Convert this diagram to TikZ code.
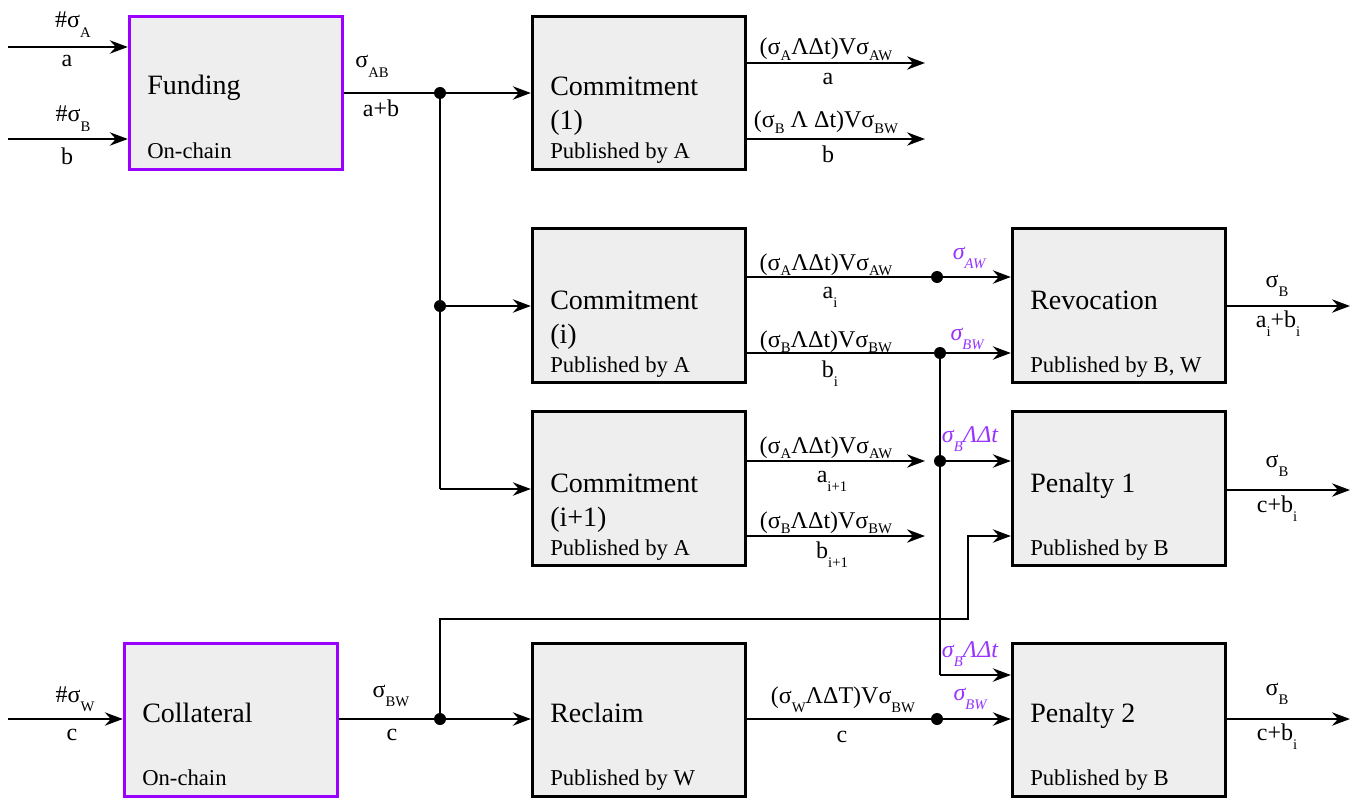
\documentclass[tikz,border=0pt]{standalone}
\usepackage{fontspec}
\setmainfont{Liberation Serif}
\usetikzlibrary{arrows.meta}
\definecolor{boxfill}{HTML}{EEEEEE}
\definecolor{purpb}{HTML}{9900FF}
\definecolor{purpt}{HTML}{9933FF}
\newcommand\sbs[1]{\raisebox{-0.40em}{\fontsize{11}{12}\selectfont #1}}
\newcommand\sbl[1]{\raisebox{-0.22em}{\fontsize{11}{12}\selectfont #1}}
\newcommand\wdg{Λ}
\tikzset{
  blk/.style={draw=black, line width=2.25pt, fill=boxfill, minimum width=160pt, minimum height=115pt, inner sep=0pt},
  pbox/.style={blk, draw=purpb},
  ttl/.style={anchor=base west, inner sep=0pt, font=\fontsize{21}{24}\selectfont},
  sml/.style={anchor=base west, inner sep=0pt, font=\fontsize{17}{20}\selectfont},
  lbl/.style={anchor=base, inner sep=0pt, font=\fontsize{18}{20}\selectfont},
  plbl/.style={lbl, text=purpt, font=\fontsize{18}{20}\selectfont\itshape},
  ln/.style={line width=1.5pt},
  arr/.style={ln, -{Stealth[length=13.5pt,width=10pt,inset=4.5pt]}},
  dot/.style={fill=black}
}
\begin{document}
\begin{tikzpicture}[x=0.75pt,y=-0.75pt]
\useasboundingbox (0,0) rectangle (1355,806);
% boxes
\node[pbox] (fund) at (236,93) {};
\node[blk] (c1) at (639,93) {};
\node[blk] (ci) at (639,305.5) {};
\node[blk] (ci1) at (639,488.5) {};
\node[blk] (rev) at (1119,305.5) {};
\node[blk] (pen1) at (1119,488.5) {};
\node[pbox] (coll) at (231,720) {};
\node[blk] (rec) at (639,720) {};
\node[blk] (pen2) at (1119,720) {};
% box texts
\node[ttl] (tf) at (147,95) {Funding};
\node[sml] (sf) at (147,158) {On-chain};
\node[ttl] (t1) at (550,96) {Commitment};
\node[ttl] (n1) at (550,130) {(1)};
\node[sml] (s1) at (550,159) {Published by A};
\node[ttl] (ti) at (550,309) {Commitment};
\node[ttl] (ni) at (550,343) {(i)};
\node[sml] (si) at (550,372) {Published by A};
\node[ttl] (ti1) at (550,492) {Commitment};
\node[ttl] (ni1) at (550,526) {(i+1)};
\node[sml] (si1) at (550,555) {Published by A};
\node[ttl] (tr) at (1030,309) {Revocation};
\node[sml] (sr) at (1030,372) {Published by B, W};
\node[ttl] (tp1) at (1030,492) {Penalty 1};
\node[sml] (sp1) at (1030,555) {Published by B};
\node[ttl] (tc) at (142,722) {Collateral};
\node[sml] (sc) at (142,785) {On-chain};
\node[ttl] (trc) at (550,722) {Reclaim};
\node[sml] (src) at (550,785) {Published by W};
\node[ttl] (tp2) at (1030,722) {Penalty 2};
\node[sml] (sp2) at (1030,785) {Published by B};
% coordinates
\coordinate (inA) at (8,47);
\coordinate (inB) at (8,139);
\coordinate (inW) at (8,719);
\coordinate (j1) at (440,93);
\coordinate (j2) at (440,306);
\coordinate (j3) at (440,489);
\coordinate (o1a) at (925,63);
\coordinate (o1b) at (925,139);
\coordinate (d1) at (937,277);
\coordinate (d2) at (940,353);
\coordinate (d3) at (940,461);
\coordinate (c5) at (940,675);
\coordinate (o3a) at (925,461);
\coordinate (o3b) at (925,536);
\coordinate (j4) at (440,719);
\coordinate (k1) at (440,619);
\coordinate (k2) at (968,619);
\coordinate (k3) at (968,536);
\coordinate (d4) at (937,719);
\coordinate (r1) at (1350,306);
\coordinate (r2) at (1350,490);
\coordinate (r3) at (1350,719);
% connectors
\draw[arr] (inA) -- (inA -| fund.west);
\draw[arr] (inB) -- (inB -| fund.west);
\draw[arr] (inW) -- (inW -| coll.west);
\draw[ln] (fund.east |- j1) -- (j1);
\draw[arr] (j1) -- (j1 -| c1.west);
\draw[ln] (j1) -- (j3);
\draw[arr] (j2) -- (j2 -| ci.west);
\draw[arr] (j3) -- (j3 -| ci1.west);
\draw[arr] (o1a -| c1.east) -- (o1a);
\draw[arr] (o1b -| c1.east) -- (o1b);
\draw[ln] (d1 -| ci.east) -- (d1);
\draw[arr] (d1) -- (d1 -| rev.west);
\draw[ln] (d2 -| ci.east) -- (d2);
\draw[arr] (d2) -- (d2 -| rev.west);
\draw[ln] (d2) -- (c5);
\draw[arr] (c5) -- (c5 -| pen2.west);
\draw[arr] (d3) -- (d3 -| pen1.west);
\draw[arr] (o3a -| ci1.east) -- (o3a);
\draw[arr] (o3b -| ci1.east) -- (o3b);
\draw[ln] (coll.east |- j4) -- (j4);
\draw[arr] (j4) -- (j4 -| rec.west);
\draw[arr] (j4) -- (k1) -- (k2) -- (k3) -- (k3 -| pen1.west);
\draw[ln] (rec.east |- d4) -- (d4);
\draw[arr] (d4) -- (d4 -| pen2.west);
\draw[arr] (r1 -| rev.east) -- (r1);
\draw[arr] (r2 -| pen1.east) -- (r2);
\draw[arr] (r3 -| pen2.east) -- (r3);
% dots
\foreach \p in {j1,j2,d1,d2,d3,j4,d4} \fill[dot] (\p) circle[radius=4.5pt];
% labels
\node[lbl] (lA) at (73,28) {\#σ\sbs{A}};
\node[lbl] (la) at (67,67) {a};
\node[lbl] (lB) at (73,122) {\#σ\sbs{B}};
\node[lbl] (lb) at (67,165) {b};
\node[lbl] (lAB) at (372,68) {σ\sbs{AB}};
\node[lbl] (lab) at (381,117) {a+b};
\node[lbl] (l1a) at (826,55) {(σ\sbl{A}\wdg Δt)Vσ\sbl{AW}};
\node[lbl] (l1av) at (828,85) {a};
\node[lbl] (l1b) at (826,128) {(σ\sbl{B} \wdg{} Δt)Vσ\sbl{BW}};
\node[lbl] (l1bv) at (828,162) {b};
\node[lbl] (lia) at (826,270) {(σ\sbl{A}\wdg Δt)Vσ\sbl{AW}};
\node[lbl] (liav) at (830,298) {a\sbs{i}};
\node[lbl] (lib) at (826,347) {(σ\sbl{B}\wdg Δt)Vσ\sbl{BW}};
\node[lbl] (libv) at (830,377) {b\sbs{i}};
\node[lbl] (li1a) at (826,453) {(σ\sbl{A}\wdg Δt)Vσ\sbl{AW}};
\node[lbl] (li1av) at (832,482) {a\sbs{i+1}};
\node[lbl] (li1b) at (826,528) {(σ\sbl{B}\wdg Δt)Vσ\sbl{BW}};
\node[lbl] (li1bv) at (832,558) {b\sbs{i+1}};
\node[plbl] (pAW) at (969,259) {σ\sbs{AW}};
\node[plbl] (pBW) at (967,340) {σ\sbs{BW}};
\node[plbl] (pBt1) at (970,442) {σ\sbs{B}\wdg Δt};
\node[plbl] (pBt2) at (970,657) {σ\sbs{B}\wdg Δt};
\node[plbl] (pBW2) at (970,700) {σ\sbs{BW}};
\node[lbl] (rs1) at (1277,287) {σ\sbs{B}};
\node[lbl] (rv1) at (1278,327) {a\sbs{i}+b\sbs{i}};
\node[lbl] (rs2) at (1277,467) {σ\sbs{B}};
\node[lbl] (rv2) at (1277,512) {c+b\sbs{i}};
\node[lbl] (rs3) at (1277,695) {σ\sbs{B}};
\node[lbl] (rv3) at (1277,740) {c+b\sbs{i}};
\node[lbl] (lW) at (75,702) {\#σ\sbs{W}};
\node[lbl] (lc) at (72,740) {c};
\node[lbl] (lBW) at (391,697) {σ\sbs{BW}};
\node[lbl] (lc2) at (392,740) {c};
\node[lbl] (lrc) at (843,703) {(σ\sbs{W}\wdg ΔT)Vσ\sbs{BW}};
\node[lbl] (lrcv) at (842,742) {c};
\end{tikzpicture}
\end{document}
